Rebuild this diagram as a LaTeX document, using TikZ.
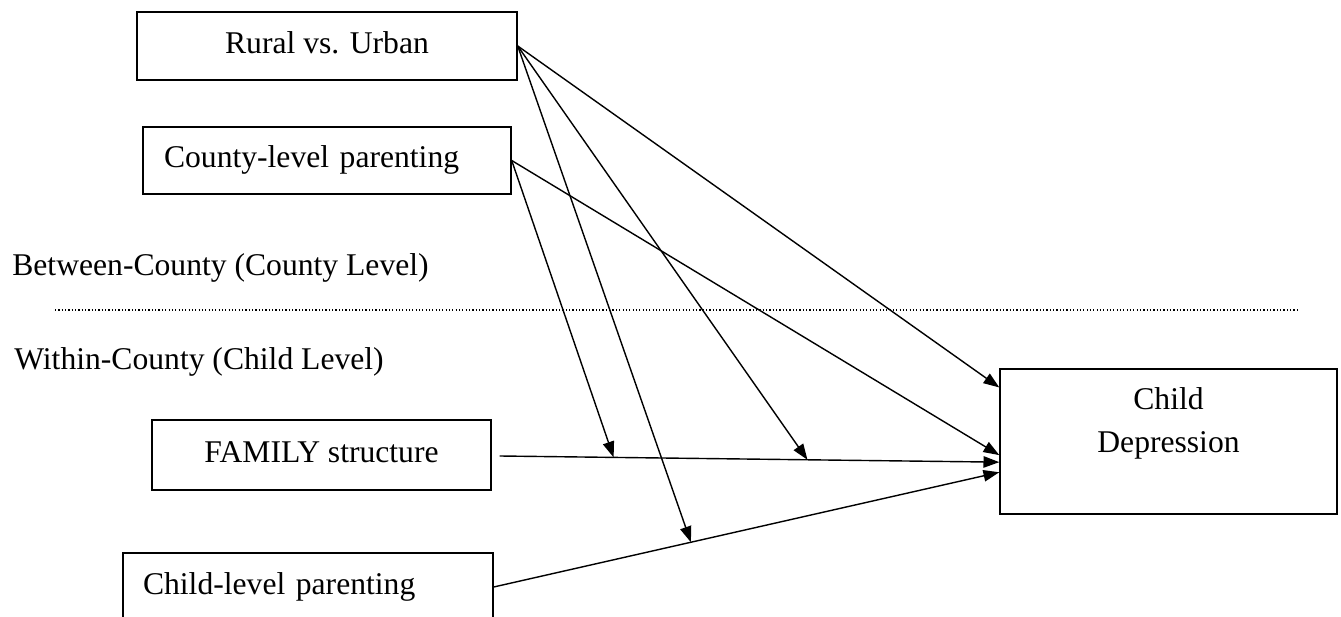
\documentclass[tikz,border=0pt]{standalone}
\usepackage{fontspec}
\setmainfont{Liberation Serif}
\usetikzlibrary{arrows.meta,calc}

\begin{document}
\begin{tikzpicture}[x=0.02cm, y=-0.02cm,
  box/.style={draw=black, line width=0.85pt, inner sep=0pt, align=center, font=\fontsize{18}{24}\selectfont, text height=13pt, text depth=5pt},
  leftbox/.style={box, align=left},
  level label/.style={inner sep=0pt, anchor=base west, font=\fontsize{18}{24}\selectfont},
  path arrow/.style={-{Triangle[length=9pt,width=6.5pt]}, line width=0.8pt},
  level line/.style={line width=0.7pt, dash pattern=on 0.7pt off 1.2pt}
]
\useasboundingbox (0,0) rectangle (1341,617);
\clip (0,0) rectangle (1341,617);

\node[box, minimum width=7.6cm, minimum height=1.36cm] (rural) at (327,46) {Rural vs. Urban};
\node[leftbox, text width=6.52cm, inner xsep=0.42cm, minimum height=1.34cm] (county) at (327,160.5) {County-level parenting};

\node[level label] (between) at (12,276) {Between-County (County Level)};
\coordinate (lineL) at (55,310);
\coordinate (lineR) at (1298,310);
\draw[level line] (lineL) -- (lineR);
\node[level label] (within) at (14,370) {Within-County (Child Level)};

\node[box, minimum width=6.78cm, minimum height=1.4cm] (fam) at (321.5,455) {FAMILY structure};
\node[leftbox, text width=6.6cm, inner xsep=0.4cm, minimum height=1.36cm] (kid) at (308,587) {Child-level parenting};
\node[box, minimum width=6.74cm, minimum height=2.9cm, text depth=1pt] (dep) at (1168.5,441.5) {Child\\Depression};

\coordinate (d1) at ($(dep.north west)!0.131!(dep.south west)$);
\coordinate (d2) at ($(dep.north west)!0.593!(dep.south west)$);
\coordinate (d3) at ($(dep.north west)!0.641!(dep.south west)$);
\coordinate (d4) at ($(dep.north west)!0.71!(dep.south west)$);
\coordinate (famout) at ($(fam.east)+(8,1)$);
\coordinate (m1) at ($(famout)!0.228!(d3)$);
\coordinate (m2) at ($(famout)!0.616!(d3)$);
\coordinate (m3) at ($(kid.east)!0.39!(d4)$);

\draw[path arrow] (rural.east) -- (d1);
\draw[path arrow] (rural.east) -- (m2);
\draw[path arrow] (rural.east) -- (m3);
\draw[path arrow] (county.east) -- (m1);
\draw[path arrow] (county.east) -- (d2);
\draw[path arrow] (famout) -- (d3);
\draw[path arrow] (kid.east) -- (d4);
\end{tikzpicture}
\end{document}
